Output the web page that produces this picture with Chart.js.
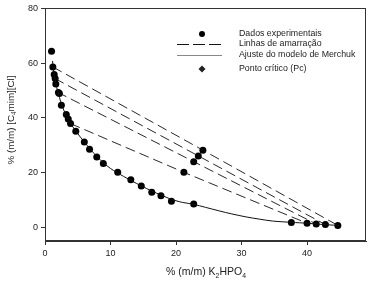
<!DOCTYPE html>
<html>
<head>
<meta charset="utf-8">
<script src="https://cdn.jsdelivr.net/npm/chart.js@4"></script>
<style>
  body { margin: 0; background: #fff; }
  #wrap { width: 370px; height: 282px; position: relative; }
</style>
</head>
<body>
<div id="wrap"><canvas id="diagram"></canvas></div>
<script>
// experimental binodal points
const bin_x = [1.0, 1.2, 1.4, 1.55, 1.65, 2.05, 2.2, 2.5, 3.25, 3.55, 3.9, 4.7, 6.0, 6.8, 7.9, 8.9, 11.1, 13.1, 14.7, 16.3, 17.7, 19.3, 22.7, 37.6, 40.0, 41.4, 42.8, 44.7];
const bin_y = [64.3, 58.6, 55.8, 54.4, 52.4, 49.3, 48.9, 44.6, 41.2, 39.6, 37.9, 35.1, 31.2, 28.5, 25.7, 23.3, 20.1, 17.4, 15.1, 12.8, 11.5, 9.5, 8.5, 1.8, 1.5, 1.2, 1.0, 0.7];
// mixture points on the tie lines
const mix_x = [21.2, 22.7, 23.4, 24.1];
const mix_y = [20.1, 24.0, 26.1, 28.2];

// tie lines: top phase, mixture, bottom phase
const tie1_x = [1.2, 24.1, 44.7], tie1_y = [58.6, 28.2, 0.7];
const tie2_x = [1.5, 23.4, 42.8], tie2_y = [54.4, 26.1, 1.0];
const tie3_x = [1.9, 22.7, 41.4], tie3_y = [49.4, 24.0, 1.2];
const tie4_x = [3.9, 21.2, 40.0], tie4_y = [37.9, 20.1, 1.5];

// Merchuk fit curve
const fit_x = [1.15, 1.3, 1.5, 1.8, 2.2, 2.7, 3.3, 4.0, 5.0, 6.0, 7.0, 8.0, 9.0, 10, 11, 12, 13, 14, 15, 16, 17, 18, 19, 20, 21, 22.7, 24.5, 26.6, 28.5, 30.7, 32.7, 34.7, 37.7, 40, 42, 44, 45];
const fit_y = [60.8, 57.5, 54.5, 51.0, 47.5, 43.8, 40.6, 37.6, 34.2, 31.2, 28.3, 25.7, 23.4, 21.5, 20.0, 18.6, 17.3, 16.0, 14.8, 13.6, 12.5, 11.5, 10.5, 9.7, 9.1, 8.4, 7.3, 6.0, 4.9, 3.8, 3.0, 2.3, 1.8, 1.5, 1.1, 0.8, 0.65];

const x_ticks = [0, 10, 20, 30, 40];
const y_ticks = [0, 20, 40, 60, 80];

const legend_labels = ['Dados experimentais', 'Linhas de amarração', 'Ajuste do modelo de Merchuk', 'Ponto crítico (Pc)'];

const pts = (xs, ys) => xs.map((x, i) => ({ x: x, y: ys[i] }));
const FONT = '"Liberation Sans", Arial, sans-serif';

const tieStyle = {
    showLine: true, borderColor: '#111', borderWidth: 0.9, borderDash: [10, 5],
    pointRadius: 0, fill: false
};

// frame, axis titles and legend
const extras = {
    id: 'extras',
    afterDraw(chart) {
        const ctx = chart.ctx;
        const a = chart.chartArea;
        ctx.save();
        ctx.strokeStyle = '#333';
        ctx.lineWidth = 1;
        ctx.strokeRect(Math.round(a.left) + 0.5, Math.round(a.top) + 0.5,
                       Math.round(a.right - a.left) - 1, Math.round(a.bottom - a.top) - 1);

        ctx.fillStyle = '#222';
        ctx.textBaseline = 'middle';

        // x title with subscripts
        const xParts = [['% (m/m) K', 0], ['2', 1], ['HPO', 0], ['4', 1]];
        drawParts(ctx, xParts, 10.5, 206, 272);

        // y title
        const yParts = [['% (m/m) [C', 0], ['4', 1], ['mim][Cl]', 0]];
        ctx.save();
        ctx.translate(11, 120);
        ctx.rotate(-Math.PI / 2);
        drawParts(ctx, yParts, 9.8, 0, 0);
        ctx.restore();

        // legend
        const lx0 = 177, lx1 = 222, sx = 202, tx = 239;
        const rows = [34, 44, 55, 69];
        ctx.font = '8.8px ' + FONT;
        ctx.textAlign = 'left';
        legend_labels.forEach((t, i) => ctx.fillText(t, tx, rows[i]));

        ctx.fillStyle = '#000';
        ctx.beginPath();
        ctx.arc(sx, rows[0], 3, 0, Math.PI * 2);
        ctx.fill();

        ctx.strokeStyle = '#111';
        ctx.lineWidth = 1;
        ctx.setLineDash([12, 4]);
        ctx.beginPath();
        ctx.moveTo(lx0, rows[1] + 0.5);
        ctx.lineTo(lx1, rows[1] + 0.5);
        ctx.stroke();
        ctx.setLineDash([]);

        ctx.strokeStyle = '#888';
        ctx.beginPath();
        ctx.moveTo(lx0, rows[2] + 0.5);
        ctx.lineTo(lx1, rows[2] + 0.5);
        ctx.stroke();

        ctx.fillStyle = '#222';
        ctx.beginPath();
        ctx.moveTo(sx, rows[3] - 3.5);
        ctx.lineTo(sx + 3.5, rows[3]);
        ctx.lineTo(sx, rows[3] + 3.5);
        ctx.lineTo(sx - 3.5, rows[3]);
        ctx.closePath();
        ctx.fill();
        ctx.restore();
    }
};

function drawParts(ctx, parts, size, cx, cy) {
    const big = size + 'px ' + FONT, small = (size * 0.65) + 'px ' + FONT;
    let w = 0;
    parts.forEach(p => { ctx.font = p[1] ? small : big; w += ctx.measureText(p[0]).width; });
    let x = cx - w / 2;
    ctx.textAlign = 'left';
    parts.forEach(p => {
        ctx.font = p[1] ? small : big;
        ctx.fillText(p[0], x, cy + (p[1] ? size * 0.35 : 0));
        x += ctx.measureText(p[0]).width;
    });
}

const ctx_1 = document.getElementById('diagram').getContext('2d');
const diagram = new Chart(ctx_1, {
    type: 'scatter',
    data: {
        datasets: [
            Object.assign({ data: pts(tie1_x, tie1_y) }, tieStyle),
            Object.assign({ data: pts(tie2_x, tie2_y) }, tieStyle),
            Object.assign({ data: pts(tie3_x, tie3_y) }, tieStyle),
            Object.assign({ data: pts(tie4_x, tie4_y) }, tieStyle),
            {
                data: pts(fit_x, fit_y), showLine: true, borderColor: '#111',
                borderWidth: 1, pointRadius: 0, tension: 0.3
            },
            {
                data: pts(bin_x, bin_y).concat(pts(mix_x, mix_y)),
                pointRadius: 3.5, pointBackgroundColor: '#000', pointBorderColor: '#000',
                pointBorderWidth: 0
            }
        ]
    },
    options: {
        responsive: true,
        maintainAspectRatio: false,
        animation: false,
        layout: { padding: { top: 8, right: 3, left: 0, bottom: 0 } },
        plugins: { legend: { display: false }, tooltip: { enabled: false } },
        scales: {
            x: {
                type: 'linear', min: 0, max: 49,
                afterFit: s => { s.height = 41; },
                afterBuildTicks: s => { s.ticks = x_ticks.map(v => ({ value: v })); },
                grid: { drawOnChartArea: false, tickLength: 4, color: '#333' },
                border: { color: '#333' },
                ticks: { padding: 3, color: '#222', font: { family: FONT, size: 9 } }
            },
            y: {
                type: 'linear', min: -5, max: 80,
                afterFit: s => { s.width = 45; },
                afterBuildTicks: s => { s.ticks = y_ticks.map(v => ({ value: v })); },
                grid: { drawOnChartArea: false, tickLength: 4, color: '#333' },
                border: { color: '#333' },
                ticks: { padding: 3, color: '#222', font: { family: FONT, size: 9 } }
            }
        }
    },
    plugins: [extras]
});
</script>
</body>
</html>
